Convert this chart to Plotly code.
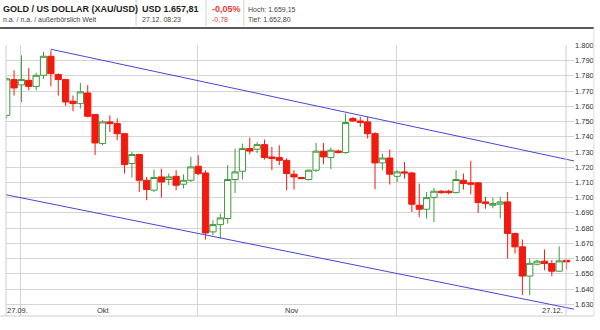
import plotly.graph_objects as go

# ---------------- data ----------------
idx = list(range(77))
open_ = [1754, 1777.5, 1774, 1777, 1773, 1780.3, 1792.8, 1780.8, 1777.5, 1763.3,
         1761.7, 1768.7, 1754.5, 1735.5, 1749.7, 1748.6, 1742, 1722.4, 1728.3, 1711.4,
         1704.9, 1713.6, 1711.9, 1714, 1708.8, 1711.4, 1720.6, 1716.2, 1677.5, 1682.3,
         1686.3, 1711.9, 1717.3, 1732.2, 1731.8, 1734.8, 1726.7, 1726.3, 1724.5, 1715.4,
         1713.2, 1711.9, 1718, 1730.5, 1726.3, 1730.6, 1729.6, 1751.9, 1750.3, 1749.7,
         1742, 1722.8, 1726, 1714, 1716.9, 1716.2, 1695, 1692.4, 1700, 1704.2,
         1704.2, 1703.3, 1711.4, 1709.7, 1709.7, 1697.2, 1695, 1695.7, 1697.2, 1676.5,
         1667.7, 1648.5, 1656.3, 1658.3, 1656.8, 1651.7, 1658.9]
high = [1779, 1783.6, 1793.4, 1785, 1782, 1795.6, 1796.7, 1781.6, 1778, 1767,
        1775.3, 1773.8, 1755, 1750.8, 1754, 1752, 1742.5, 1730, 1728.8, 1713.6,
        1718.4, 1719, 1715.8, 1718, 1715.2, 1726.7, 1727.8, 1718, 1685.2, 1689.5,
        1721.3, 1732.2, 1735.5, 1739.4, 1736.5, 1738.1, 1733.3, 1734.4, 1725.7, 1718,
        1713.4, 1718.6, 1735.9, 1735.9, 1732.9, 1731.5, 1755.2, 1753, 1753, 1753,
        1743, 1728.9, 1731.6, 1718, 1723.4, 1717, 1709.3, 1703.7, 1706.4, 1705,
        1705.2, 1718, 1715.8, 1724.1, 1710.3, 1700.5, 1700, 1700.5, 1703.7, 1677,
        1672.5, 1660, 1659, 1666, 1659, 1668, 1659.15]
low = [1752, 1767, 1762.8, 1770.5, 1770.5, 1778, 1773, 1767, 1760.2, 1756.7,
       1758.4, 1752.6, 1728, 1734.4, 1743.1, 1737.7, 1715.8, 1713.2, 1703.7, 1698.3,
       1703.7, 1700, 1708.1, 1704.9, 1706, 1710.3, 1714.7, 1672.5, 1675.3, 1673,
       1683, 1703, 1711.9, 1728.5, 1729.3, 1725, 1718, 1721.3, 1704.9, 1705.3,
       1712.3, 1711.2, 1716.9, 1721.9, 1718.6, 1729.0, 1728.9, 1749.8, 1746.4, 1738.8,
       1705.5, 1718, 1708.6, 1710.3, 1712.5, 1690.6, 1687.3, 1686.3, 1684, 1702.5,
       1702.2, 1702.7, 1705.3, 1702.2, 1690, 1692.8, 1693, 1686.3, 1660, 1663.3,
       1636, 1636, 1655.5, 1652.4, 1648.4, 1651.3, 1652.8]
close = [1778, 1772, 1777.5, 1773, 1780.3, 1792.8, 1781.4, 1777.5, 1762.8, 1761.7,
         1769.4, 1753.4, 1735.9, 1749.7, 1748.6, 1742, 1721.7, 1728.3, 1711.4, 1705.3,
         1713.2, 1710.3, 1713.6, 1708.1, 1711.4, 1720.2, 1715.8, 1676.8, 1682.3, 1686.7,
         1711.9, 1716.9, 1732.2, 1730.6, 1734.8, 1726.3, 1725.7, 1724.5, 1715.8, 1713.6,
         1712.5, 1718, 1730.5, 1726.7, 1731.1, 1729.6, 1749.3, 1750.3, 1749.3, 1742,
         1722.8, 1726, 1715.4, 1716.9, 1716.2, 1695.7, 1692.4, 1700, 1704.2, 1703.3,
         1703.3, 1711.9, 1709.3, 1708.8, 1696.8, 1696.1, 1696.1, 1697.2, 1676.5, 1667.7,
         1648.5, 1656.9, 1658.3, 1656.8, 1651.7, 1658.5, 1657.81]

# trend channel (index, price)
upper_x = [6, 77.0]
upper_y = [1797.4, 1724.1]
lower_x = [-0.1, 77.0]
lower_y = [1701.9, 1626.8]

y_ticks = list(range(1630, 1801, 10))
month_grid = [1.9, 25.9, 52.9]
x_labels = [("27.09.", 5, "left"), ("Okt", 104.5, "center"), ("Nov", 294, "center"), ("27.12.", 569, "right")]

# ---------------- layout helpers ----------------
W, H = 600, 330
L, R, T, B = 6, 578, 45, 316


def px(x):
    return (x - L) / (R - L)


def py(y):
    return (B - y) / (B - T)


RED = "#f21a0e"
GREEN = "#3f9a3f"
BLUE = "#4646dc"
FONT = "Liberation Sans, Arial, sans-serif"

fig = go.Figure()

fig.add_trace(go.Candlestick(
    x=idx, open=open_, high=high, low=low, close=close,
    increasing=dict(line=dict(color=GREEN, width=1), fillcolor="white"),
    decreasing=dict(line=dict(color=RED, width=1), fillcolor=RED),
    whiskerwidth=0, showlegend=False, hoverinfo="skip",
))

fig.add_trace(go.Scatter(x=upper_x, y=upper_y, mode="lines",
                         line=dict(color=BLUE, width=1), showlegend=False, hoverinfo="skip"))
fig.add_trace(go.Scatter(x=lower_x, y=lower_y, mode="lines",
                         line=dict(color=BLUE, width=1), showlegend=False, hoverinfo="skip"))

shapes = []
# header separators
for sx in [137, 207.5, 245.5]:
    shapes.append(dict(type="line", xref="paper", yref="paper", x0=px(sx), x1=px(sx),
                       y0=py(0), y1=py(26), line=dict(color="#d0d0d0", width=1)))
# header rule
shapes.append(dict(type="line", xref="paper", yref="paper", x0=px(0), x1=px(598),
                   y0=py(28), y1=py(28), line=dict(color="#5a5a5a", width=2)))
# frame lines
shapes.append(dict(type="line", xref="paper", yref="paper", x0=px(6), x1=px(6),
                   y0=py(45), y1=py(316), line=dict(color="#cccccc", width=1)))
shapes.append(dict(type="line", xref="paper", yref="paper", x0=px(570), x1=px(570),
                   y0=py(45), y1=py(316), line=dict(color="#cccccc", width=1)))
shapes.append(dict(type="line", xref="paper", yref="paper", x0=px(0), x1=px(598),
                   y0=py(316), y1=py(316), line=dict(color="#cccccc", width=1)))
shapes.append(dict(type="line", xref="paper", yref="paper", x0=px(598), x1=px(598),
                   y0=py(28), y1=py(316), line=dict(color="#dddddd", width=1)))

ann = []


def text(x, y, s, size, color="#222", bold=False, anchor="left"):
    ann.append(dict(xref="paper", yref="paper", x=px(x), y=py(y), text=("<b>%s</b>" % s) if bold else s,
                    showarrow=False, xanchor=anchor, yanchor="middle",
                    font=dict(family=FONT, size=size, color=color)))


text(1, 9, "GOLD / US DOLLAR (XAU/USD)", 9, "#222", True)
text(1, 19.5, "n.a. / n.a. / außerbörslich Welt", 7, "#444")
text(141, 9, "USD 1.657,81", 9, "#222", True)
text(141, 19.5, "27.12. 08:23", 7, "#444")
text(211, 9, "-0,05%", 9, "#e83a3a", True)
text(211, 19.5, "-0,78", 7, "#e83a3a")
text(248, 9, "Hoch: 1.659,15", 7, "#444")
text(248, 19.5, "Tief: 1.652,80", 7, "#444")

for lab, xx, anc in x_labels:
    text(xx, 310.5, lab, 7.5, "#333", False, anc)

fig.update_layout(
    width=W, height=H,
    margin=dict(l=L, r=W - R, t=T, b=H - B),
    paper_bgcolor="white", plot_bgcolor="white",
    separators=",.",
    boxgap=0.15, boxgroupgap=0,
    shapes=shapes, annotations=ann,
    xaxis=dict(range=[-0.094, 77.01], rangeslider=dict(visible=False),
               tickvals=month_grid, showticklabels=False, ticks="",
               showgrid=True, gridcolor="#d4d4d4", gridwidth=1, zeroline=False,
               showline=False, fixedrange=True),
    yaxis=dict(range=[1622.3, 1800.2], side="right", tickvals=y_ticks, tickformat=",d",
               showgrid=True, gridcolor="#d4d4d4", gridwidth=1, zeroline=False, ticks="",
               tickfont=dict(family=FONT, size=7.5, color="#333"), showline=False, fixedrange=True),
    font=dict(family=FONT),
)

fig.write_html("out.html")
